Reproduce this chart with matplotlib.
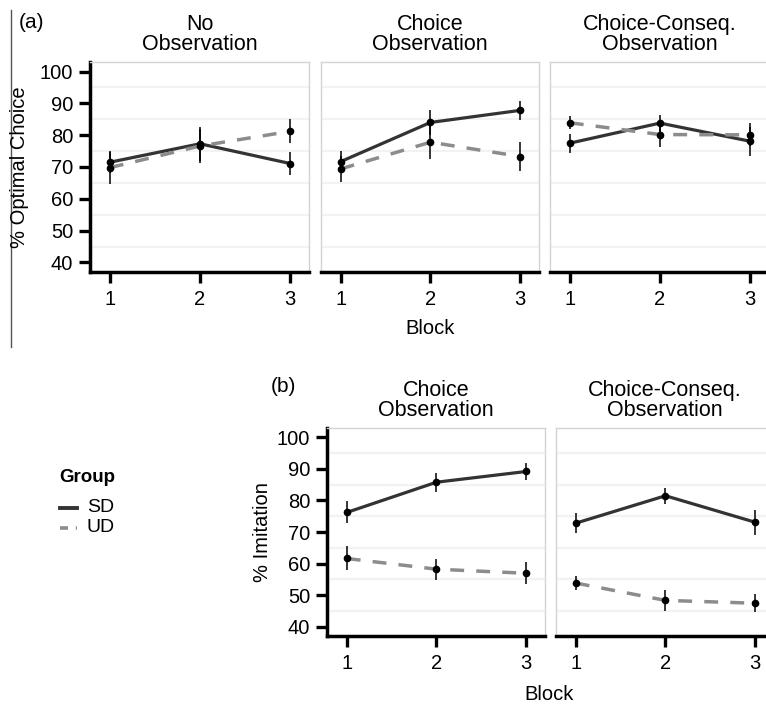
import matplotlib
matplotlib.use("Agg")
import matplotlib.pyplot as plt
from matplotlib.lines import Line2D

plt.rcParams['font.family'] = ['Liberation Sans', 'DejaVu Sans']

# data
blocks = [1, 2, 3]
a_titles = ["No\nObservation", "Choice\nObservation", "Choice-Conseq.\nObservation"]
a_sd_mean = [[71.5, 77.3, 71.1], [71.7, 84.0, 87.8], [77.5, 83.8, 78.1]]
a_sd_err = [[3.5, 5.3, 3.5], [3.2, 3.9, 3.0], [3.0, 2.7, 4.5]]
a_ud_mean = [[69.8, 76.6, 81.2], [69.4, 77.8, 73.3], [83.9, 80.2, 80.1]]
a_ud_err = [[5.0, 5.3, 3.8], [4.2, 5.3, 4.7], [2.1, 3.9, 3.6]]

b_titles = ["Choice\nObservation", "Choice-Conseq.\nObservation"]
b_sd_mean = [[76.2, 85.8, 89.2], [72.8, 81.5, 73.1]]
b_sd_err = [[3.5, 3.0, 2.6], [3.2, 2.5, 4.0]]
b_ud_mean = [[61.6, 58.2, 56.9], [53.8, 48.3, 47.4]]
b_ud_err = [[3.8, 3.3, 3.5], [2.1, 3.3, 2.8]]

y_ticks = [40, 50, 60, 70, 80, 90, 100]
minor_grid = [45, 55, 65, 75, 85, 95]

W, H = 766, 704
fig = plt.figure(figsize=(W / 100, H / 100), dpi=100)


def px_axes(x0, y0, x1, y1):
    return fig.add_axes([x0 / W, 1 - y1 / H, (x1 - x0) / W, (y1 - y0) / H])


def draw_panel(ax, sd, sde, ud, ude, title, first):
    for g in minor_grid:
        ax.axhline(g, color='#f2f2f2', lw=1.6, zorder=0)
    ax.plot(blocks, sd, color='#333333', lw=2.3, zorder=2, solid_capstyle='butt')
    ax.plot(blocks, ud, color='#8c8c8c', lw=2.5, ls=(0, (4, 3.5)), zorder=2)
    ax.errorbar(blocks, sd, yerr=sde, fmt='o', color='black', ms=4.5,
                elinewidth=1.1, capsize=0, zorder=3)
    ax.errorbar(blocks, ud, yerr=ude, fmt='o', color='black', ms=4.5,
                elinewidth=1.1, capsize=0, zorder=3)
    ax.set_xlim(0.78, 3.21)
    ax.set_ylim(37, 103)
    ax.set_xticks(blocks)
    ax.set_yticks(y_ticks)
    for s in ['top', 'right', 'left']:
        ax.spines[s].set_color('#d4d4d4')
        ax.spines[s].set_linewidth(1.0)
    ax.spines['bottom'].set_color('black')
    ax.spines['bottom'].set_linewidth(2.5)
    ax.tick_params(axis='x', length=8, width=2.4, pad=5, labelsize=14.5)
    if first:
        ax.spines['left'].set_color('black')
        ax.spines['left'].set_linewidth(2.5)
        ax.tick_params(axis='y', length=8, width=2.4, pad=4, labelsize=14.5)
    else:
        ax.tick_params(axis='y', left=False, labelleft=False)
    ax.set_title(title, fontsize=15.5, pad=8.5, linespacing=0.95)


# panel (a)
a_boxes = [(90, 62, 309, 272), (321, 62, 539, 272), (550, 62, 769, 272)]
for i, box in enumerate(a_boxes):
    ax = px_axes(*box)
    draw_panel(ax, a_sd_mean[i], a_sd_err[i], a_ud_mean[i], a_ud_err[i],
               a_titles[i], i == 0)

# panel (b)
b_boxes = [(327, 428, 545, 636), (556, 428, 774, 636)]
for i, box in enumerate(b_boxes):
    ax = px_axes(*box)
    draw_panel(ax, b_sd_mean[i], b_sd_err[i], b_ud_mean[i], b_ud_err[i],
               b_titles[i], i == 0)

# labels
fig.text(20 / W, 1 - 167 / H, "% Optimal Choice", rotation=90, fontsize=14.5,
         ha='center', va='center')
fig.text(430 / W, 1 - 329 / H, "Block", fontsize=14.5, ha='center', va='center')
fig.text(263 / W, 1 - 532 / H, "% Imitation", rotation=90, fontsize=14.5,
         ha='center', va='center')
fig.text(549 / W, 1 - 695 / H, "Block", fontsize=14.5, ha='center', va='center')
fig.text(19 / W, 1 - 22 / H, "(a)", fontsize=15, ha='left', va='center')
fig.text(271 / W, 1 - 387 / H, "(b)", fontsize=15, ha='left', va='center')

# stray frame line at the left
fig.add_artist(Line2D([11 / W, 11 / W], [1 - 10 / H, 1 - 347 / H],
                      color='#555555', lw=1.0))

# legend
fig.text(59 / W, 1 - 477 / H, "Group", fontsize=13.5, fontweight='bold',
         ha='left', va='center')
fig.add_artist(Line2D([60 / W, 77 / W], [1 - 508 / H, 1 - 508 / H],
                      color='#333333', lw=2.8))
fig.add_artist(Line2D([60 / W, 77 / W], [1 - 528 / H, 1 - 528 / H],
                      color='#8c8c8c', lw=2.6, ls=(0, (2.2, 2.2))))
fig.text(87 / W, 1 - 508 / H, "SD", fontsize=14, ha='left', va='center')
fig.text(87 / W, 1 - 528 / H, "UD", fontsize=14, ha='left', va='center')

fig.savefig("out.png", dpi=100)
